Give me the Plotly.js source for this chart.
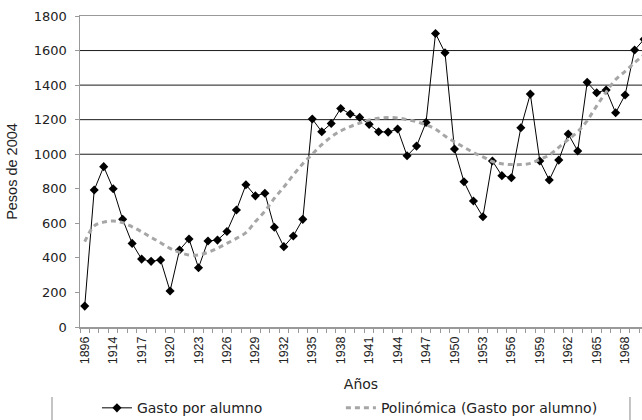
<!DOCTYPE html>
<html>
<head>
<meta charset="utf-8">
<script src="https://cdn.plot.ly/plotly-3.0.1.min.js"></script>
<style>
  html, body { margin: 0; padding: 0; background: #fff; overflow: hidden; }
  #chart { width: 642px; height: 420px; }
</style>
</head>
<body>
<div id="chart"></div>
<script>
// Years (categories)
const years = [
  "1896","1912","1913","1914","1915","1916","1917","1918","1919","1920",
  "1921","1922","1923","1924","1925","1926","1927","1928","1929","1930",
  "1931","1932","1933","1934","1935","1936","1937","1938","1939","1940",
  "1941","1942","1943","1944","1945","1946","1947","1948","1949","1950",
  "1951","1952","1953","1954","1955","1956","1957","1958","1959","1960",
  "1961","1962","1963","1964","1965","1966","1967","1968","1969","1970"
];

// Gasto por alumno (Pesos de 2004)
const gastoPorAlumno = [
  121, 793, 928, 800, 623, 484, 393, 380, 388, 208,
  446, 509, 343, 498, 503, 553, 677, 823, 759, 774,
  577, 465, 527, 623, 1204, 1130, 1178, 1265, 1233, 1213,
  1173, 1130, 1128, 1146, 991, 1047, 1184, 1699, 1587, 1030,
  841, 729, 638, 961, 876, 864, 1153, 1348, 961, 851,
  966, 1117, 1019, 1416, 1356, 1372, 1240, 1343, 1603, 1665
];

// Polinómica (Gasto por alumno) – trend line
const polinomica = [
  494, 585, 607, 613, 604, 580, 551, 519, 488, 455,
  432, 417, 417, 432, 455, 484, 513, 546, 610, 670,
  745, 810, 880, 945, 1000, 1055, 1100, 1135, 1160, 1180,
  1198, 1208, 1212, 1210, 1200, 1188, 1170, 1145, 1105, 1072,
  1040, 1010, 985, 958, 945, 940, 940, 947, 970, 995,
  1040, 1085, 1130, 1195, 1280, 1360, 1432, 1480, 1530, 1575
];

// Tick labels shown on the x axis
const shownYearLabels = [
  "1896","1914","1917","1920","1923","1926","1929","1932","1935","1938",
  "1941","1944","1947","1950","1953","1956","1959","1962","1965","1968"
];

// Y ticks and horizontal reference lines
const yTickValues = [0, 200, 400, 600, 800, 1000, 1200, 1400, 1600, 1800];
const gridValues = [1000, 1200, 1400, 1600];

const seriesNames = ["Gasto por alumno", "Polinómica (Gasto por alumno)"];

const xTickText = years.map(y => shownYearLabels.includes(y) ? y : "");

const traces = [
  {
    x: years, y: gastoPorAlumno, name: seriesNames[0],
    type: "scatter", mode: "lines+markers",
    line: { color: "#000000", width: 1 },
    marker: { symbol: "diamond", size: 7, color: "#000000" },
    cliponaxis: true, legend: "legend"
  },
  {
    x: years, y: polinomica, name: seriesNames[1],
    type: "scatter", mode: "lines",
    line: { color: "#a6a6a6", width: 3, dash: "5px,4px", shape: "spline" },
    cliponaxis: true, legend: "legend2"
  }
];

const shapes = gridValues.map(v => ({
  type: "line", xref: "paper", yref: "y",
  x0: 0, x1: 1, y0: v, y1: v,
  line: { color: "#1a1a1a", width: 1 }, layer: "below"
}));
// legend box side borders
shapes.push({ type: "line", xref: "paper", yref: "paper", x0: -0.0498, x1: -0.0498, y0: -0.225, y1: -0.31, line: { color: "#888", width: 1 } });
shapes.push({ type: "line", xref: "paper", yref: "paper", x0: 0.9786, x1: 0.9786, y0: -0.225, y1: -0.31, line: { color: "#888", width: 1 } });

const legendFont = { family: "DejaVu Sans, sans-serif", size: 14, color: "#222" };

const layout = {
  width: 642, height: 420,
  margin: { l: 80, r: 0, t: 16, b: 93, pad: 0 },
  paper_bgcolor: "#ffffff", plot_bgcolor: "#ffffff",
  font: { family: "DejaVu Sans, Arial, sans-serif", size: 13, color: "#222" },
  showlegend: true,
  legend: {
    orientation: "h",
    xref: "container", yref: "container",
    x: 0.151, y: 0.028, xanchor: "left", yanchor: "middle",
    font: legendFont,
    bgcolor: "rgba(0,0,0,0)", borderwidth: 0
  },
  legend2: {
    orientation: "h",
    xref: "container", yref: "container",
    x: 0.531, y: 0.028, xanchor: "left", yanchor: "middle",
    font: legendFont,
    bgcolor: "rgba(0,0,0,0)", borderwidth: 0
  },
  xaxis: {
    type: "category",
    range: [-0.5, 58.78],
    tickmode: "array", tickvals: years, ticktext: xTickText,
    tickson: "boundaries",
    ticks: "outside", ticklen: 4, tickcolor: "#999", tickwidth: 1,
    ticklabelstandoff: 3,
    tickangle: -90,
    tickfont: { family: "Liberation Sans, Arial, sans-serif", size: 12.5, color: "#222" },
    showgrid: false, zeroline: false,
    showline: true, linecolor: "#999", linewidth: 1.5, mirror: true,
    title: { text: "Años", font: { family: "DejaVu Sans, sans-serif", size: 14, color: "#222" }, standoff: 16 },
    fixedrange: true
  },
  yaxis: {
    range: [0, 1800],
    tickmode: "array", tickvals: yTickValues,
    ticks: "outside", ticklen: 4, tickcolor: "#999", tickwidth: 1,
    ticklabelstandoff: 5,
    tickfont: { family: "DejaVu Sans, sans-serif", size: 13, color: "#222" },
    showgrid: false, zeroline: false,
    showline: true, linecolor: "#999", linewidth: 1.5,
    title: { text: "Pesos de 2004", font: { family: "Liberation Sans, Arial, sans-serif", size: 14.5, color: "#222" }, standoff: 12 },
    fixedrange: true
  },
  shapes: shapes
};

Plotly.newPlot("chart", traces, layout, { displayModeBar: false, staticPlot: true });
</script>
</body>
</html>
